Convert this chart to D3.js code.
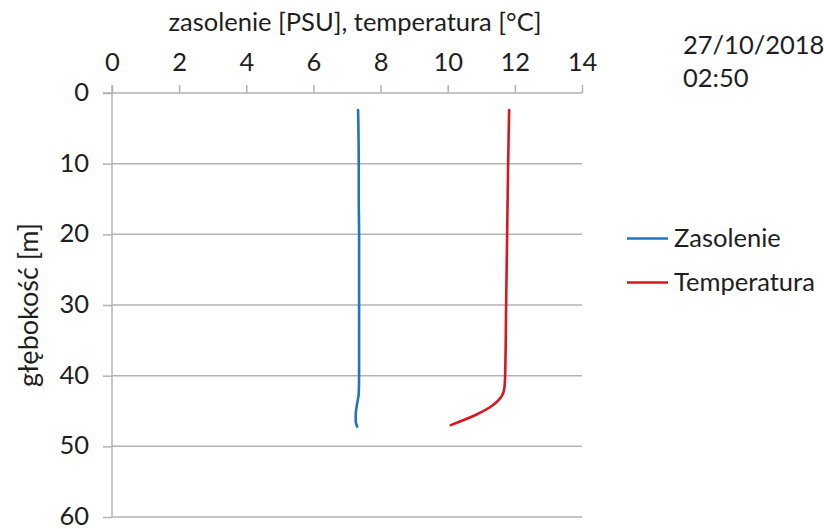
<!DOCTYPE html>
<html>
<head>
<meta charset="utf-8">
<script src="https://cdn.jsdelivr.net/npm/d3@7"></script>
<style>
  html, body { margin: 0; padding: 0; background: #fff; }
  svg text { font-family: Lato, "Open Sans", sans-serif; fill: #1e1e1e; }
</style>
</head>
<body>
<svg id="chart" width="824" height="529"></svg>
<script>
// Depth profile: salinity and temperature against depth
const salinityDepth = [2.4, 5, 10, 15, 20, 25, 30, 35, 40, 42.5, 44, 45.5, 46.5, 47.2];
const salinityValues = [7.33, 7.34, 7.35, 7.35, 7.36, 7.36, 7.36, 7.36, 7.36, 7.35, 7.30, 7.26, 7.26, 7.30];

const temperatureDepth = [2.4, 10, 20, 30, 40, 41.7, 42.9, 44.3, 45.5, 47.0];
const temperatureValues = [11.83, 11.80, 11.77, 11.74, 11.71, 11.69, 11.61, 11.31, 10.86, 10.09];

const xTicks = [0, 2, 4, 6, 8, 10, 12, 14];
const yTicks = [0, 10, 20, 30, 40, 50, 60];

const xTitle = "zasolenie [PSU], temperatura [°C]";
const yTitle = "głębokość [m]";
const stampLines = ["27/10/2018", "02:50"];
const seriesNames = ["Zasolenie", "Temperatura"];
const seriesColors = ["#1f74c6", "#d8161c"];

const fontSize = 25.5;
const svg = d3.select("#chart");
const plot = { left: 112, right: 582, top: 93, bottom: 517 };

const x = d3.scaleLinear().domain([0, 14]).range([plot.left, plot.right]);
const y = d3.scaleLinear().domain([0, 60]).range([plot.top, plot.bottom]);

const gridColor = "#b3b3b3";

// horizontal gridlines
svg.append("g")
  .selectAll("line")
  .data(yTicks.slice(1))
  .join("line")
  .attr("x1", plot.left).attr("x2", plot.right)
  .attr("y1", d => y(d)).attr("y2", d => y(d))
  .attr("stroke", gridColor).attr("stroke-width", 1.5);

// top axis (x) with ticks pointing up
const xAxis = svg.append("g")
  .attr("transform", `translate(0,${plot.top})`)
  .call(d3.axisTop(x).tickValues(xTicks).tickSize(8).tickPadding(14).tickSizeOuter(0));
xAxis.select(".domain").attr("stroke", gridColor).attr("stroke-width", 1.5)
  .attr("d", `M${plot.left - 9},0H${plot.right}`);
xAxis.selectAll(".tick line").attr("stroke", gridColor).attr("stroke-width", 1.5);
xAxis.selectAll(".tick text").attr("font-size", fontSize).attr("fill", "#1e1e1e")
  .style("font-family", "Lato, sans-serif");

// left axis (y) with ticks pointing left
const yAxis = svg.append("g")
  .attr("transform", `translate(${plot.left},0)`)
  .call(d3.axisLeft(y).tickValues(yTicks).tickSize(9).tickPadding(14).tickSizeOuter(0));
yAxis.select(".domain").attr("stroke", gridColor).attr("stroke-width", 1.5)
  .attr("d", `M0,${plot.top - 8}V${plot.bottom}`);
yAxis.selectAll(".tick line").attr("stroke", gridColor).attr("stroke-width", 1.5);
yAxis.selectAll(".tick text").attr("font-size", fontSize).attr("fill", "#1e1e1e")
  .attr("dy", "0.3em")
  .style("font-family", "Lato, sans-serif");

// axis titles
svg.append("text")
  .attr("x", 355).attr("y", 31)
  .attr("text-anchor", "middle").attr("font-size", fontSize)
  .text(xTitle);

svg.append("text")
  .attr("transform", `translate(38,305) rotate(-90)`)
  .attr("text-anchor", "middle").attr("font-size", 27)
  .text(yTitle);

// profile lines
const line = d3.line()
  .x(d => x(d[0]))
  .y(d => y(d[1]))
  .curve(d3.curveMonotoneY);

const series = [
  d3.zip(salinityValues, salinityDepth),
  d3.zip(temperatureValues, temperatureDepth)
];

svg.append("g")
  .selectAll("path")
  .data(series)
  .join("path")
  .attr("d", line)
  .attr("fill", "none")
  .attr("stroke", (d, i) => seriesColors[i])
  .attr("stroke-width", 2.6)
  .attr("stroke-linecap", "round");

// legend
const legend = svg.append("g")
  .selectAll("g")
  .data(seriesNames)
  .join("g")
  .attr("transform", (d, i) => `translate(627,${238.5 + i * 44})`);
legend.append("line")
  .attr("x1", 0).attr("x2", 41)
  .attr("stroke", (d, i) => seriesColors[i]).attr("stroke-width", 2.6);
legend.append("text")
  .attr("x", 47).attr("dy", "0.35em")
  .attr("font-size", fontSize)
  .text(d => d);

// timestamp
svg.append("g")
  .selectAll("text")
  .data(stampLines)
  .join("text")
  .attr("x", 683).attr("y", (d, i) => 54 + i * 33)
  .attr("font-size", fontSize)
  .text(d => d);
</script>
</body>
</html>
